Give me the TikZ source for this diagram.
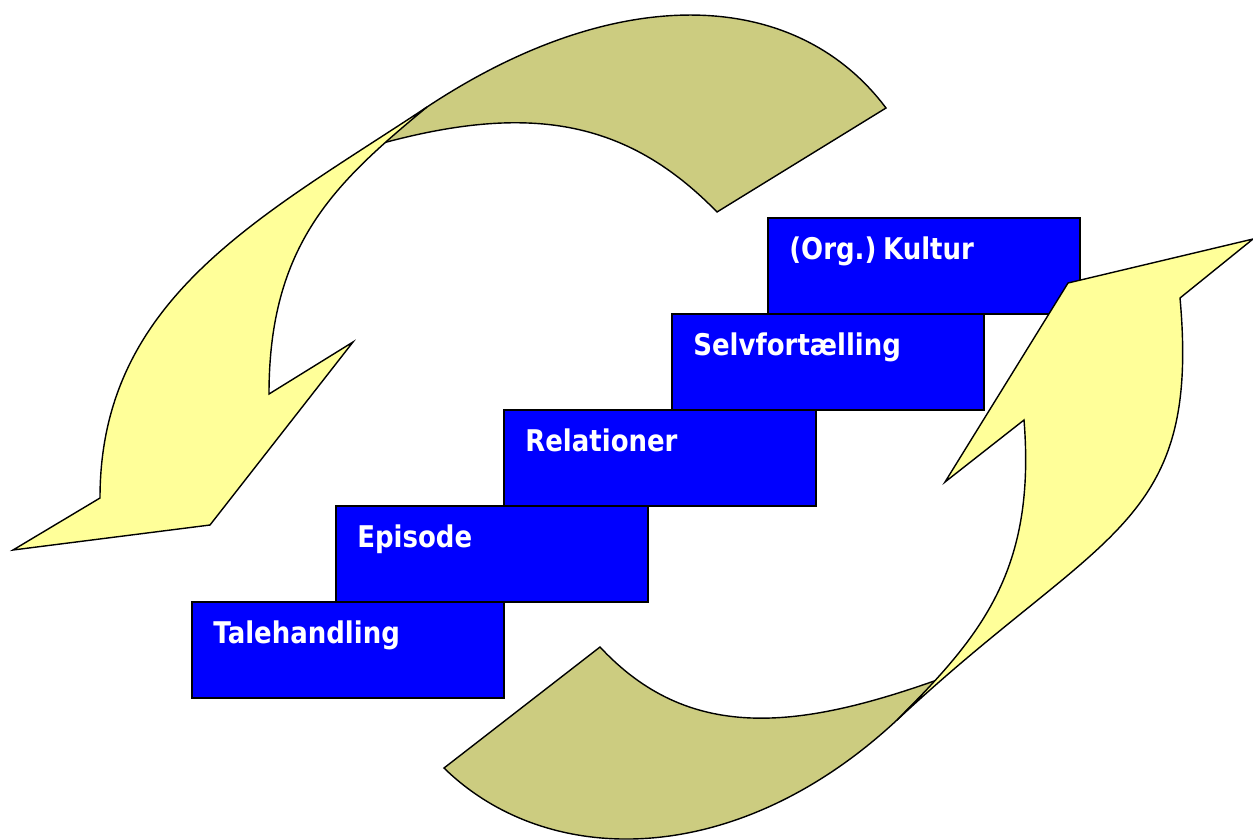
\documentclass[tikz,border=0pt]{standalone}
\usepackage{fontspec}
\newfontfamily\boxfont{DejaVu Sans}[FakeStretch=0.87]
\definecolor{boxblue}{RGB}{0,0,255}
\definecolor{olive}{RGB}{204,204,128}
\definecolor{lightyellow}{RGB}{255,255,153}
\tikzset{
  stepbox/.style={draw=black, line width=1.1pt, fill=boxblue, rectangle,
    minimum width=6.24cm, minimum height=1.92cm, inner sep=0pt, anchor=north west},
  boxlabel/.style={text=white, font=\boxfont\bfseries\fontsize{17pt}{20pt}\selectfont,
    inner sep=0pt, anchor=base west},
  backside/.style={draw=black, line width=0.8pt, fill=olive, line join=miter},
  frontside/.style={draw=black, line width=0.8pt, fill=lightyellow, line join=miter},
}
\begin{document}
\begin{tikzpicture}[x=0.02cm,y=-0.02cm]
\useasboundingbox (0,0) rectangle (1253,839);
% steps
\node[stepbox] (tale) at (191,601) {};
\node[stepbox] (epi)  at (335,505) {};
\node[stepbox] (rel)  at (503,409) {};
\node[stepbox] (selv) at (671,313) {};
\node[stepbox] (kult) at (767,217) {};
\node[boxlabel] (taleT) at ([shift={(22,42)}]tale.north west) {Talehandling};
\node[boxlabel] (epiT)  at ([shift={(22,42)}]epi.north west) {Episode};
\node[boxlabel] (relT)  at ([shift={(22,42)}]rel.north west) {Relationer};
\node[boxlabel] (selvT) at ([shift={(22,42)}]selv.north west) {Selvfortælling};
\node[boxlabel] (kultT) at ([shift={(22,42)}]kult.north west) {(Org.)\hspace{0.22em}Kultur};
% top-left arrow: back side
\path[backside] (427,107) .. controls (618,-19.5) and (796,-12) .. (886,108)
  -- (717,212) .. controls (626,118.4) and (528,104) .. (383,143)
  .. controls (397,130) and (412,118) .. (427,107) -- cycle;
% top-left arrow: front side
\path[frontside] (427,107) .. controls (261,217) and (100,298) .. (100,498)
  -- (13,550) -- (210,525) -- (353,342) -- (269,394)
  .. controls (269,244) and (335,183) .. (427,107) -- cycle;
% bottom-right arrow: back side
\path[backside] (897,720) .. controls (736.4,869.6) and (547.8,869.5) .. (444,768)
  -- (600,647) .. controls (688.4,742) and (796,730) .. (937,680)
  .. controls (923,694) and (910,707) .. (897,720) -- cycle;
% bottom-right arrow: front side
\path[frontside] (897,720) .. controls (1101,529.6) and (1200.7,528) .. (1180,298)
  -- (1253,239) -- (1068,283) -- (945,482) -- (1024,420)
  .. controls (1036,570) and (981.8,635.2) .. (897,720) -- cycle;
\end{tikzpicture}
\end{document}
